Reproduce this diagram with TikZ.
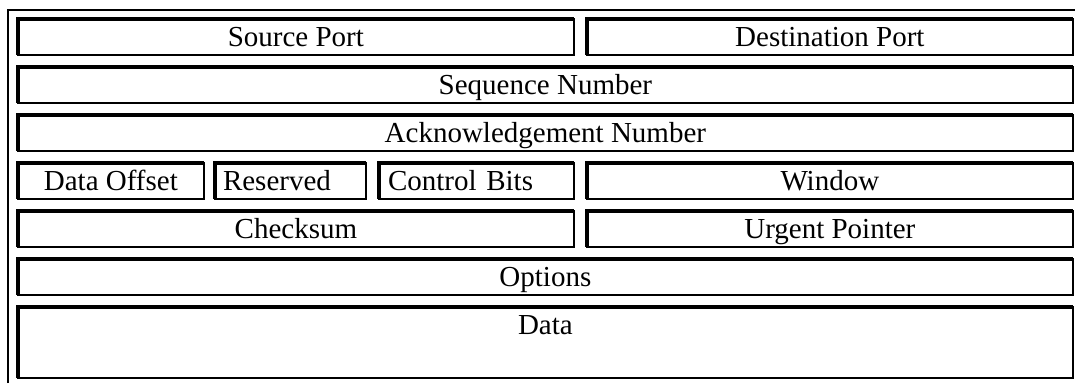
\documentclass[tikz,border=0pt]{standalone}
\usepackage{fontspec}
\setmainfont{Liberation Serif}
\begin{document}
\begin{tikzpicture}[x=1pt, y=-1pt,
    field/.style={draw, rectangle, line width=2.5pt, inner sep=0pt, outer sep=0pt,
      anchor=north west, minimum height=35.75pt, text height=23pt, text depth=3pt,
      font=\fontsize{29}{32}\selectfont},
    leftfield/.style={field, align=left, inner xsep=#1},
    datafield/.style={field, minimum height=70.75pt, text depth=37.8pt}]
      \useasboundingbox (0,0) rectangle (1075,383);
      % outer frame of the table
      \draw[line width=2pt] (7.7,383) -- (7.7,9.5) -- (1075,9.5);
      \draw
        (18,19) node[field, minimum width=555.75pt] (src){Source Port}
        (587,19) node[field, minimum width=485.75pt] (dst){Destination Port}
        (18,67) node[field, minimum width=1054.75pt] (seq){Sequence Number}
        (18,115) node[field, minimum width=1054.75pt] (ack){Acknowledgement Number}
        (18,163) node[field, minimum width=185.75pt] (off){Data Offset}
        (215,163) node[leftfield=8pt, text width=134.75pt] (rsv){Reserved}
        (379,163) node[leftfield=9pt, text width=176.75pt] (ctl){Control Bits}
        (587,163) node[field, minimum width=485.75pt] (win){Window}
        (18,211) node[field, minimum width=555.75pt] (chk){Checksum}
        (587,211) node[field, minimum width=485.75pt] (urg){Urgent Pointer}
        (18,259) node[field, minimum width=1054.75pt] (opt){Options}
        (18,307) node[datafield, minimum width=1054.75pt] (dat){Data};
      % heavier top and left edges
      \begin{scope}[line width=4pt]
        \draw (src.south west) to (src.north west) to (src.north east);
        \draw (dst.south west) to (dst.north west) to (dst.north east);
        \draw (seq.south west) to (seq.north west) to (seq.north east);
        \draw (ack.south west) to (ack.north west) to (ack.north east);
        \draw (off.south west) to (off.north west) to (off.north east);
        \draw (rsv.south west) to (rsv.north west) to (rsv.north east);
        \draw (ctl.south west) to (ctl.north west) to (ctl.north east);
        \draw (win.south west) to (win.north west) to (win.north east);
        \draw (chk.south west) to (chk.north west) to (chk.north east);
        \draw (urg.south west) to (urg.north west) to (urg.north east);
        \draw (opt.south west) to (opt.north west) to (opt.north east);
        \draw (dat.south west) to (dat.north west) to (dat.north east);
      \end{scope}
    \end{tikzpicture}
\end{document}
